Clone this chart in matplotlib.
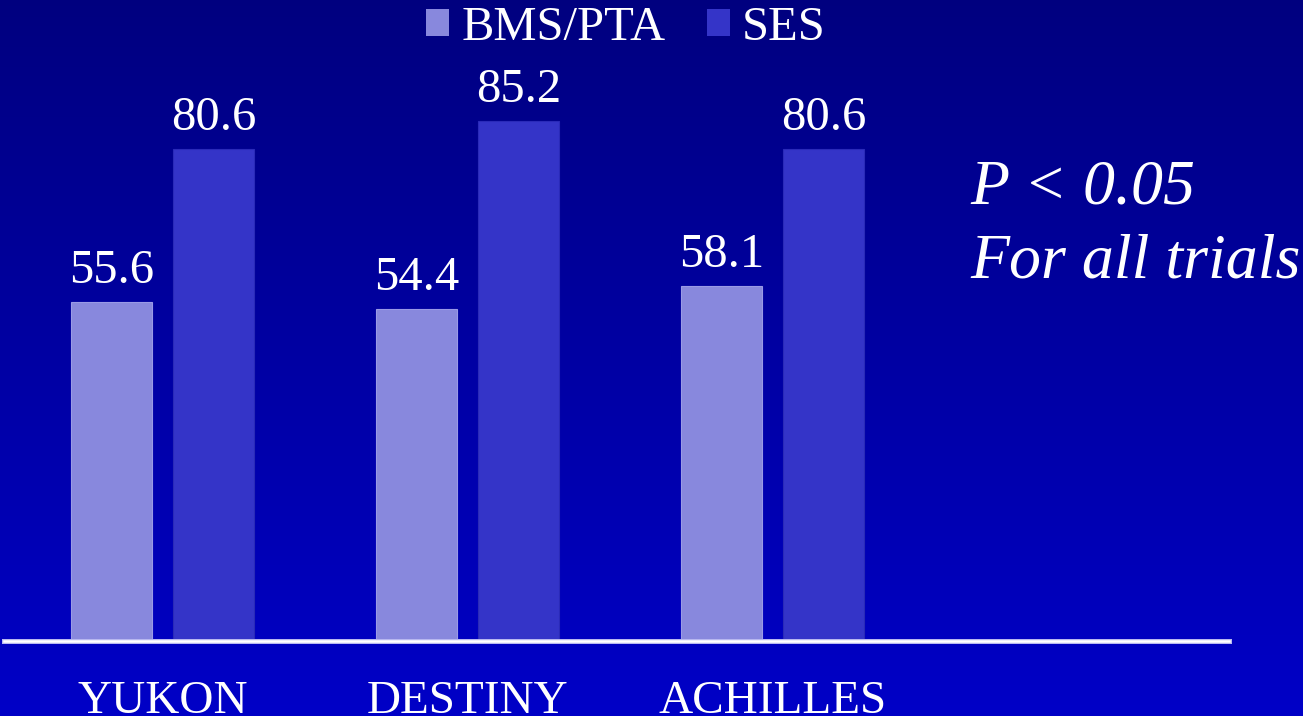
import numpy as np
import matplotlib
matplotlib.use("Agg")
import matplotlib.pyplot as plt
from matplotlib.patches import Patch

plt.rcParams["font.family"] = ["Liberation Serif", "DejaVu Serif"]

trials = ["YUKON", "DESTINY", "ACHILLES"]
bms_pta = [55.6, 54.4, 58.1]
ses = [80.6, 85.2, 80.6]
series_names = ["BMS/PTA", "SES"]

C_BMS = "#8888dd"
C_SES = "#3434c8"

W, H = 1303, 716
fig = plt.figure(figsize=(W / 100, H / 100), dpi=100)

# vertical navy -> blue gradient behind everything
bg = fig.add_axes([0, 0, 1, 1], zorder=0)
grad = np.linspace(0, 1, 256).reshape(-1, 1)
top = np.array([0.0, 0.0, 0.50])
bot = np.array([0.0, 0.0, 0.78])
img = top[None, None, :] * (1 - grad[:, :, None]) + bot[None, None, :] * grad[:, :, None]
bg.imshow(img, aspect="auto", extent=[0, 1, 0, 1])
bg.set_axis_off()

# plot area: baseline at 641 px, spans x 4..1229 px
px_per_unit = 6.104
ax = fig.add_axes([4 / W, (H - 641) / H, 1225 / W, 600 / H], zorder=1)
ax.set_facecolor("none")
x = np.arange(len(trials))
bw = 0.266
off = 0.168
b1 = ax.bar(x - off, bms_pta, bw, color=C_BMS, edgecolor="#9a9ae6", linewidth=0.8, zorder=2)
b2 = ax.bar(x + off, ses, bw, color=C_SES, edgecolor="#2a2ab8", linewidth=0.8, zorder=2)
ax.set_xlim(-0.52, 3.497)
ax.set_ylim(0, 600 / px_per_unit)

for bars, vals in ((b1, bms_pta), (b2, ses)):
    for r, v in zip(bars, vals):
        ax.annotate(f"{v:.1f}", (r.get_x() + r.get_width() / 2, v),
                    xytext=(0, 13.7), textcoords="offset points",
                    ha="center", va="baseline", color="white", fontsize=35)

for xi, name in zip(x, trials):
    ax.annotate(name, (xi, 0), xytext=(0, -51.8), textcoords="offset points",
                ha="center", va="baseline", color="white", fontsize=34,
                annotation_clip=False)

# baseline rule
ax.axhline(0, color="#b8b8f0", lw=3.6, zorder=3, clip_on=False)
ax.axhline(0, color="white", lw=1.8, zorder=4, clip_on=False)

for s in ax.spines.values():
    s.set_visible(False)
ax.set_xticks([])
ax.set_yticks([])

handles = [Patch(facecolor=C_BMS, edgecolor="none"), Patch(facecolor=C_SES, edgecolor="none")]
fig.legend(handles, series_names, loc="center", bbox_to_anchor=(626 / W, 1 - 28 / H),
           ncol=2, frameon=False, fontsize=35, handlelength=0.47, handleheight=0.47,
           handletextpad=0.25, columnspacing=0.85, borderpad=0, labelcolor="white")

fig.text(970 / W, 1 - 203 / H, "P < 0.05", color="white", fontsize=46,
         style="italic", ha="left", va="baseline")
fig.text(970 / W, 1 - 278 / H, "For all trials", color="white", fontsize=46,
         style="italic", ha="left", va="baseline")

fig.savefig("out.png", dpi=100)
